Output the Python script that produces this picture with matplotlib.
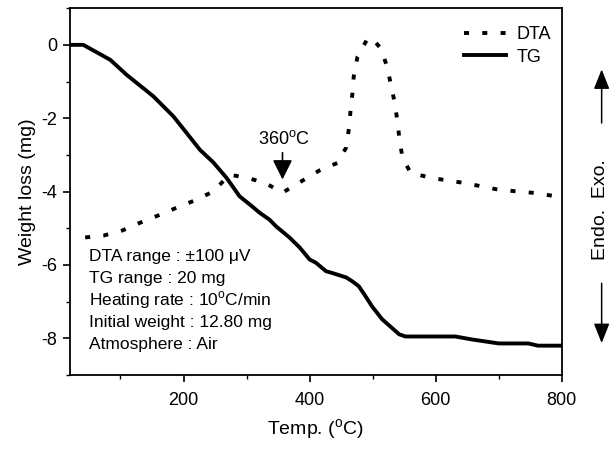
import matplotlib
matplotlib.use('Agg')
import matplotlib.pyplot as plt
from matplotlib.ticker import MultipleLocator


plt.rcParams['font.family'] = ['Liberation Sans', 'DejaVu Sans']
plt.rcParams['mathtext.fontset'] = 'custom'
plt.rcParams['mathtext.rm'] = 'Liberation Sans'
plt.rcParams['axes.unicode_minus'] = False

# TG curve (weight loss, mg)
tg_temp = [20, 41, 60, 84, 110, 152, 184, 215, 226, 247, 268, 289, 305, 321,
           336, 347, 368, 384, 400, 410, 426, 436, 458, 468, 478, 489, 499,
           515, 542, 552, 600, 631, 657, 700, 747, 762, 800]
tg_weight = [0.0, 0.0, -0.18, -0.41, -0.82, -1.4, -1.95, -2.62, -2.86, -3.2,
             -3.62, -4.13, -4.35, -4.58, -4.76, -4.95, -5.25, -5.52, -5.85,
             -5.94, -6.17, -6.22, -6.34, -6.45, -6.58, -6.86, -7.13, -7.48,
             -7.89, -7.95, -7.95, -7.95, -8.03, -8.14, -8.14, -8.2, -8.2]

# DTA curve (same axis, arbitrary units)
dta_temp = [44, 73, 103, 131, 160, 189, 218, 247, 273, 300, 329, 357, 386,
            415, 444, 458, 463, 465, 468, 470, 476, 491, 498, 513, 523, 529,
            534, 539, 542, 547, 560, 594, 647, 700, 752, 800]
dta_signal = [-5.25, -5.2, -5.06, -4.85, -4.65, -4.44, -4.24, -4.0, -3.54,
              -3.62, -3.76, -4.03, -3.73, -3.43, -3.22, -2.8, -2.2, -1.77,
              -1.31, -0.86, -0.32, 0.14, 0.2, -0.1, -0.6, -1.09, -1.5, -2.04,
              -2.5, -3.05, -3.49, -3.63, -3.77, -3.95, -4.03, -4.15]

conditions = ['DTA range : \u00b1100 \u03bcV',
              'TG range : 20 mg',
              'Heating rate : 10$^{\\rm o}$C/min',
              'Initial weight : 12.80 mg',
              'Atmosphere : Air']


def main():
    fig = plt.figure(figsize=(6.12, 4.54), dpi=100)
    ax = fig.add_axes([0.1144, 0.174, 0.8036, 0.808])

    ax.plot(dta_temp, dta_signal, color='black', lw=2.8,
            linestyle=(0, (1.3, 3.4)), label='DTA')
    ax.plot(tg_temp, tg_weight, color='black', lw=2.8, label='TG')

    ax.set_xlim(20, 800)
    ax.set_ylim(-9, 1)
    ax.xaxis.set_major_locator(MultipleLocator(200))
    ax.xaxis.set_minor_locator(MultipleLocator(100))
    ax.yaxis.set_major_locator(MultipleLocator(2))
    ax.yaxis.set_minor_locator(MultipleLocator(1))
    ax.tick_params(which='major', direction='out', length=5, width=1.2,
                   labelsize=13, pad=7)
    ax.tick_params(which='minor', direction='out', length=3, width=1.0)
    ax.tick_params(axis='y', which='major', pad=4)
    for s in ax.spines.values():
        s.set_linewidth(1.3)

    ax.set_xlabel('Temp. ($^{\\rm o}$C)', fontsize=14, labelpad=6)
    ax.set_ylabel('Weight loss (mg)', fontsize=14, labelpad=4)

    ax.legend(loc='upper right', bbox_to_anchor=(1.0, 0.98), frameon=False,
              fontsize=13, handlelength=2.3, handletextpad=0.6,
              labelspacing=0.3, borderaxespad=0.2)

    # Marker for the 360 C dip
    ax.text(360, -2.58, '360$^{\\rm o}$C', ha='center', va='center',
            fontsize=13)
    ax.annotate('', xy=(357, -3.67), xytext=(357, -2.94),
                arrowprops=dict(arrowstyle='-|>,head_length=0.5,head_width=0.25',
                                color='black', lw=1.2, mutation_scale=24,
                                shrinkA=0, shrinkB=0))

    # Measurement conditions
    for i, line in enumerate(conditions):
        ax.text(0.039, 0.323 - i * 0.06, line, transform=ax.transAxes,
                fontsize=12.5, ha='left', va='center')

    # Endo / Exo side markers
    ax.text(1.079, 0.45, 'Endo.  Exo.', transform=ax.transAxes,
            rotation=90, ha='center', va='center', fontsize=14)
    arrow = dict(arrowstyle='-|>,head_length=0.5,head_width=0.2',
                 color='black', lw=1.1, mutation_scale=24,
                 shrinkA=0, shrinkB=0)
    ax.annotate('', xy=(1.081, 0.833), xytext=(1.081, 0.687),
                xycoords='axes fraction', textcoords='axes fraction',
                arrowprops=arrow)
    ax.annotate('', xy=(1.081, 0.087), xytext=(1.081, 0.25),
                xycoords='axes fraction', textcoords='axes fraction',
                arrowprops=arrow)

    fig.savefig('out.png', dpi=100)


if __name__ == '__main__':
    main()
